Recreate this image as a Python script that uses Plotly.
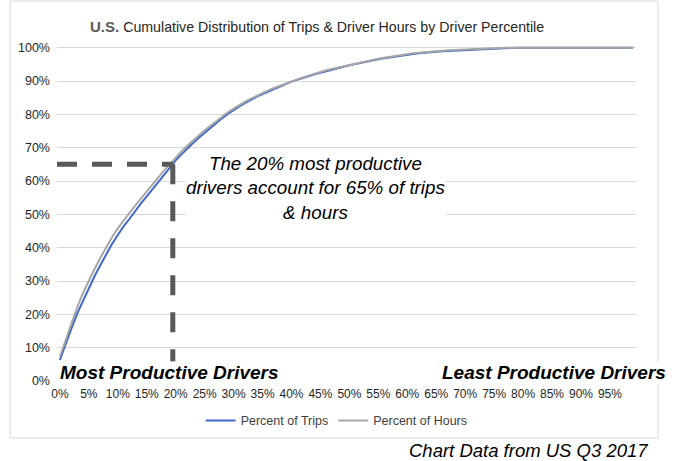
import plotly.graph_objects as go

# percentil de conductores (0..99) y valores acumulados en %
percentil = list(range(100))

pct_trips = [6.3, 11.2, 15.8, 20.3, 24.2, 28.0, 31.5, 34.8, 38.0, 41.1,
             43.8, 46.4, 48.6, 51.0, 53.3, 55.4, 57.6, 59.8, 62.0, 64.2,
             66.2, 68.0, 69.8, 71.4, 73.0, 74.5, 76.0, 77.4, 78.8, 80.1,
             81.3, 82.4, 83.4, 84.4, 85.3, 86.1, 86.9, 87.7, 88.4, 89.1,
             89.8, 90.4, 91.0, 91.5, 92.0, 92.5, 93.0, 93.4, 93.9, 94.3,
             94.7, 95.1, 95.5, 95.9, 96.2, 96.5, 96.8, 97.1, 97.4, 97.7,
             97.9, 98.1, 98.3, 98.5, 98.7, 98.8, 98.9, 99.0, 99.1, 99.2,
             99.3, 99.4, 99.5, 99.6, 99.7, 99.8, 99.9, 99.95, 100, 100,
             100, 100, 100, 100, 100, 100, 100, 100, 100, 100,
             100, 100, 100, 100, 100, 100, 100, 100, 100, 100]

pct_hours = [7.3, 12.5, 17.5, 22.2, 26.4, 30.2, 33.7, 37.0, 40.2, 43.1,
             45.8, 48.2, 50.4, 52.6, 54.8, 56.9, 59.0, 61.1, 63.2, 65.2,
             67.1, 68.9, 70.6, 72.2, 73.7, 75.2, 76.6, 78.0, 79.3, 80.6,
             81.7, 82.8, 83.8, 84.7, 85.6, 86.4, 87.2, 87.9, 88.6, 89.3,
             89.9, 90.5, 91.1, 91.7, 92.2, 92.7, 93.2, 93.6, 94.1, 94.5,
             94.9, 95.3, 95.7, 96.1, 96.4, 96.7, 97.0, 97.3, 97.6, 97.9,
             98.1, 98.3, 98.5, 98.7, 98.9, 99.0, 99.1, 99.2, 99.3, 99.4,
             99.5, 99.6, 99.7, 99.8, 99.9, 100, 100, 100, 100, 100,
             100, 100, 100, 100, 100, 100, 100, 100, 100, 100,
             100, 100, 100, 100, 100, 100, 100, 100, 100, 100]

x_tickvals = list(range(0, 100, 5))
x_ticktext = [f"{v}%" for v in x_tickvals]
y_tickvals = list(range(0, 101, 10))
y_ticktext = [f"{v}%" for v in y_tickvals]

# punto destacado: 20% de conductores -> 65% de viajes
top_pct = 19.5
top_share = 65

FONT = "Liberation Sans, Arial, sans-serif"

fig = go.Figure()
fig.add_trace(go.Scatter(x=percentil, y=pct_trips, mode="lines", name="Percent of Trips",
                         line=dict(color="#3F68CC", width=2)))
fig.add_trace(go.Scatter(x=percentil, y=pct_hours, mode="lines", name="Percent of Hours",
                         line=dict(color="#A6A6A6", width=2)))

# lineas punteadas
fig.add_shape(type="line", xref="x", yref="y", x0=-0.5, x1=top_pct, y0=top_share, y1=top_share,
              line=dict(color="#595959", width=5, dash="20px,15px"))
fig.add_shape(type="line", xref="x", yref="y", x0=top_pct, x1=top_pct, y0=top_share, y1=5.8,
              line=dict(color="#595959", width=5, dash="20px,17px"))
# borde del grafico
fig.add_shape(type="rect", xref="paper", yref="paper", x0=-0.0812, x1=1.038, y0=-0.1701, y1=1.1343,
              line=dict(color="#D9D9D9", width=1), layer="below")

fig.update_layout(
    width=675, height=461,
    margin=dict(l=57, r=39, t=46, b=80),
    paper_bgcolor="white", plot_bgcolor="white",
    font=dict(family=FONT, color="#262626"),
    showlegend=True,
    legend=dict(orientation="h", x=0.483, xanchor="center", y=-0.119, yanchor="middle",
                font=dict(size=12.5, color="#404040"), itemwidth=30),
    xaxis=dict(range=[-0.5, 99.5], tickvals=x_tickvals, ticktext=x_ticktext, showgrid=False,
               zeroline=False, showline=False, ticks="", tickfont=dict(size=12, color="#262626"),
               ticklabelstandoff=4),
    yaxis=dict(range=[0, 100.5], tickvals=y_tickvals, ticktext=y_ticktext, showgrid=True,
               gridcolor="#D9D9D9", gridwidth=1, zeroline=False, showline=False, ticks="",
               tickfont=dict(size=12.5, color="#262626"), ticklabelstandoff=6),
    annotations=[
        dict(text="<b><span style='font-size:15px;color:#595959'>U.S.</span></b> Cumulative Distribution of Trips & Driver Hours by Driver Percentile",
             xref="paper", yref="paper", x=0.0535, y=1.0597, xanchor="left", yanchor="middle",
             showarrow=False, font=dict(size=14.2, color="#262626")),
        dict(text="<b><i>Most Productive Drivers</i></b>", xref="paper", yref="paper",
             x=0.004, y=0.0248, xanchor="left", yanchor="middle", showarrow=False,
             bgcolor="white", borderpad=0, font=dict(size=19, color="black")),
        dict(text="<b><i>Least Productive Drivers</i></b>", xref="paper", yref="paper",
             x=1.0535, y=0.0248, xanchor="right", yanchor="middle", showarrow=False,
             bgcolor="white", borderpad=0, font=dict(size=19, color="black")),
        dict(text="<i>The 20% most productive<br>drivers account for 65% of trips<br>& hours</i>",
             xref="paper", yref="paper", x=0.4465, y=0.5761, xanchor="center", yanchor="middle",
             showarrow=False, bgcolor="white", borderpad=0, align="center",
             font=dict(size=18.8, color="black")),
        dict(text="<i>Chart Data from US Q3 2017</i>", xref="paper", yref="paper",
             x=1.0242, y=-0.2075, xanchor="right", yanchor="middle", showarrow=False,
             font=dict(size=18.5, color="black")),
    ],
)

# quitar el margen del body para que la figura empiece en (0,0)
fig.write_html("out.html", config={"displayModeBar": False},
               post_script="document.body.style.margin='0';")
